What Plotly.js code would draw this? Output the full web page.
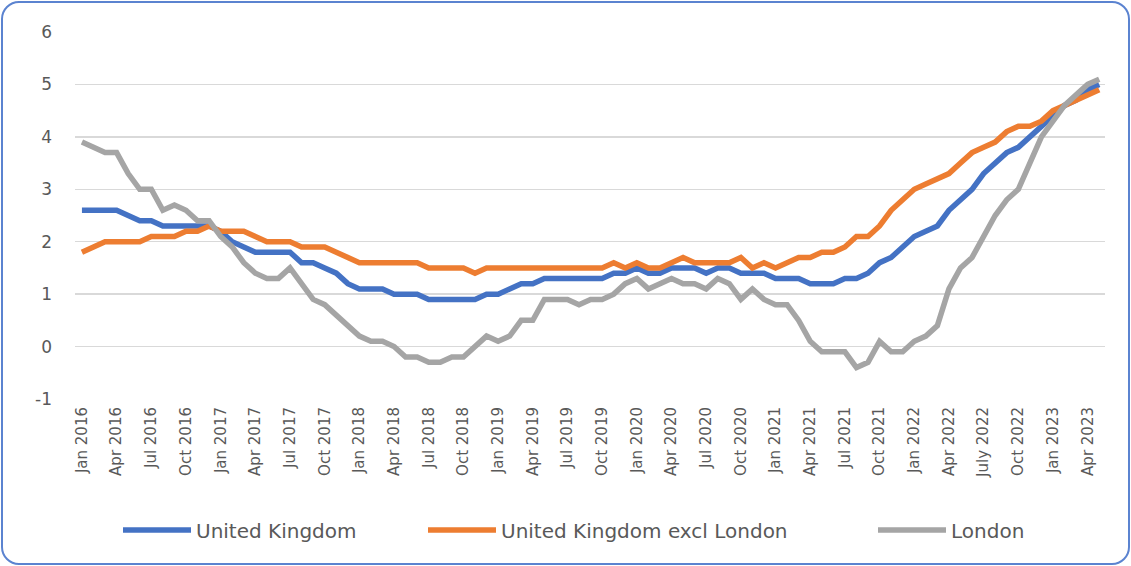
<!DOCTYPE html>
<html>
<head>
<meta charset="utf-8">
<script src="https://cdn.plot.ly/plotly-3.0.1.min.js"></script>
<style>
  html, body { margin: 0; padding: 0; background: #ffffff; }
  #wrap { position: relative; width: 1131px; height: 566px; }
  #chart { position: absolute; left: 0; top: 0; width: 1131px; height: 566px; }
  #frame { position: absolute; left: 1px; top: 1px; width: 1125px; height: 560px;
           border: 2px solid #5B83D0; border-radius: 18px; pointer-events: none; }
</style>
</head>
<body>
<div id="wrap">
  <div id="chart"></div>
  <div id="frame"></div>
</div>
<script>
const months = [
  "Jan 2016","Feb 2016","Mar 2016","Apr 2016","May 2016","Jun 2016","Jul 2016","Aug 2016","Sep 2016","Oct 2016","Nov 2016","Dec 2016",
  "Jan 2017","Feb 2017","Mar 2017","Apr 2017","May 2017","Jun 2017","Jul 2017","Aug 2017","Sep 2017","Oct 2017","Nov 2017","Dec 2017",
  "Jan 2018","Feb 2018","Mar 2018","Apr 2018","May 2018","Jun 2018","Jul 2018","Aug 2018","Sep 2018","Oct 2018","Nov 2018","Dec 2018",
  "Jan 2019","Feb 2019","Mar 2019","Apr 2019","May 2019","Jun 2019","Jul 2019","Aug 2019","Sep 2019","Oct 2019","Nov 2019","Dec 2019",
  "Jan 2020","Feb 2020","Mar 2020","Apr 2020","May 2020","Jun 2020","Jul 2020","Aug 2020","Sep 2020","Oct 2020","Nov 2020","Dec 2020",
  "Jan 2021","Feb 2021","Mar 2021","Apr 2021","May 2021","Jun 2021","Jul 2021","Aug 2021","Sep 2021","Oct 2021","Nov 2021","Dec 2021",
  "Jan 2022","Feb 2022","Mar 2022","Apr 2022","May 2022","Jun 2022","July 2022","Aug 2022","Sep 2022","Oct 2022","Nov 2022","Dec 2022",
  "Jan 2023","Feb 2023","Mar 2023","Apr 2023","May 2023"
];

const tickLabels = [
  "Jan 2016","Apr 2016","Jul 2016","Oct 2016","Jan 2017","Apr 2017","Jul 2017","Oct 2017",
  "Jan 2018","Apr 2018","Jul 2018","Oct 2018","Jan 2019","Apr 2019","Jul 2019","Oct 2019",
  "Jan 2020","Apr 2020","Jul 2020","Oct 2020","Jan 2021","Apr 2021","Jul 2021","Oct 2021",
  "Jan 2022","Apr 2022","July 2022","Oct 2022","Jan 2023","Apr 2023"
];

const yTickValues = [-1, 0, 1, 2, 3, 4, 5, 6];
const yTickLabels = ["-1", "0", "1", "2", "3", "4", "5", "6"];

const unitedKingdom = [
  2.6,2.6,2.6,2.6,2.5,2.4,2.4,2.3,2.3,2.3,2.3,2.3,
  2.2,2.0,1.9,1.8,1.8,1.8,1.8,1.6,1.6,1.5,1.4,1.2,
  1.1,1.1,1.1,1.0,1.0,1.0,0.9,0.9,0.9,0.9,0.9,1.0,
  1.0,1.1,1.2,1.2,1.3,1.3,1.3,1.3,1.3,1.3,1.4,1.4,
  1.5,1.4,1.4,1.5,1.5,1.5,1.4,1.5,1.5,1.4,1.4,1.4,
  1.3,1.3,1.3,1.2,1.2,1.2,1.3,1.3,1.4,1.6,1.7,1.9,
  2.1,2.2,2.3,2.6,2.8,3.0,3.3,3.5,3.7,3.8,4.0,4.2,
  4.4,4.6,4.7,4.9,5.0
];

const ukExclLondon = [
  1.8,1.9,2.0,2.0,2.0,2.0,2.1,2.1,2.1,2.2,2.2,2.3,
  2.2,2.2,2.2,2.1,2.0,2.0,2.0,1.9,1.9,1.9,1.8,1.7,
  1.6,1.6,1.6,1.6,1.6,1.6,1.5,1.5,1.5,1.5,1.4,1.5,
  1.5,1.5,1.5,1.5,1.5,1.5,1.5,1.5,1.5,1.5,1.6,1.5,
  1.6,1.5,1.5,1.6,1.7,1.6,1.6,1.6,1.6,1.7,1.5,1.6,
  1.5,1.6,1.7,1.7,1.8,1.8,1.9,2.1,2.1,2.3,2.6,2.8,
  3.0,3.1,3.2,3.3,3.5,3.7,3.8,3.9,4.1,4.2,4.2,4.3,
  4.5,4.6,4.7,4.8,4.9
];

const london = [
  3.9,3.8,3.7,3.7,3.3,3.0,3.0,2.6,2.7,2.6,2.4,2.4,
  2.1,1.9,1.6,1.4,1.3,1.3,1.5,1.2,0.9,0.8,0.6,0.4,
  0.2,0.1,0.1,0.0,-0.2,-0.2,-0.3,-0.3,-0.2,-0.2,0.0,0.2,
  0.1,0.2,0.5,0.5,0.9,0.9,0.9,0.8,0.9,0.9,1.0,1.2,
  1.3,1.1,1.2,1.3,1.2,1.2,1.1,1.3,1.2,0.9,1.1,0.9,
  0.8,0.8,0.5,0.1,-0.1,-0.1,-0.1,-0.4,-0.3,0.1,-0.1,-0.1,
  0.1,0.2,0.4,1.1,1.5,1.7,2.1,2.5,2.8,3.0,3.5,4.0,
  4.3,4.6,4.8,5.0,5.1
];

const seriesNames = ["United Kingdom", "United Kingdom excl London", "London"];
const seriesColors = ["#4472C4", "#ED7D31", "#A5A5A5"];
const seriesValues = [unitedKingdom, ukExclLondon, london];
const legendIds = ["legend", "legend2", "legend3"];

const traces = seriesValues.map((vals, k) => ({
  type: "scatter",
  mode: "lines",
  name: seriesNames[k],
  legend: legendIds[k],
  x: months,
  y: vals,
  line: { color: seriesColors[k], width: 5.5, shape: "linear" },
  hoverinfo: "x+y+name"
}));

const legendFont = { size: 20, color: "#595959", family: "DejaVu Sans, Verdana, sans-serif" };
function legendAt(px) {
  return {
    orientation: "h",
    xref: "container", yref: "container",
    x: px / 1131, xanchor: "left",
    y: 36 / 566, yanchor: "middle",
    font: legendFont,
    itemwidth: 68,
    bgcolor: "rgba(0,0,0,0)"
  };
}

const layout = {
  width: 1131,
  height: 566,
  margin: { l: 75, r: 26, t: 32, b: 167, autoexpand: false },
  paper_bgcolor: "#ffffff",
  plot_bgcolor: "#ffffff",
  font: { family: "DejaVu Sans, Verdana, sans-serif", color: "#595959" },
  showlegend: true,
  legend: legendAt(118),
  legend2: legendAt(423),
  legend3: legendAt(873),
  xaxis: {
    type: "category",
    range: [-0.6, 88.5],
    tickmode: "array",
    tickvals: tickLabels,
    ticktext: tickLabels,
    tickangle: -90,
    tickfont: { size: 15, color: "#595959" },
    showgrid: false,
    showline: false,
    zeroline: false,
    ticks: "",
    ticklabelstandoff: 4,
    automargin: false
  },
  yaxis: {
    range: [-1, 6],
    tickmode: "array",
    tickvals: yTickValues,
    ticktext: yTickLabels,
    showgrid: true,
    gridcolor: "#D9D9D9",
    gridwidth: 1.5,
    zeroline: false,
    showline: false,
    ticks: "",
    tickfont: { size: 17, color: "#595959" },
    ticklabelstandoff: 22,
    automargin: false
  }
};

Plotly.newPlot("chart", traces, layout, { displayModeBar: false, staticPlot: true });
</script>
</body>
</html>
